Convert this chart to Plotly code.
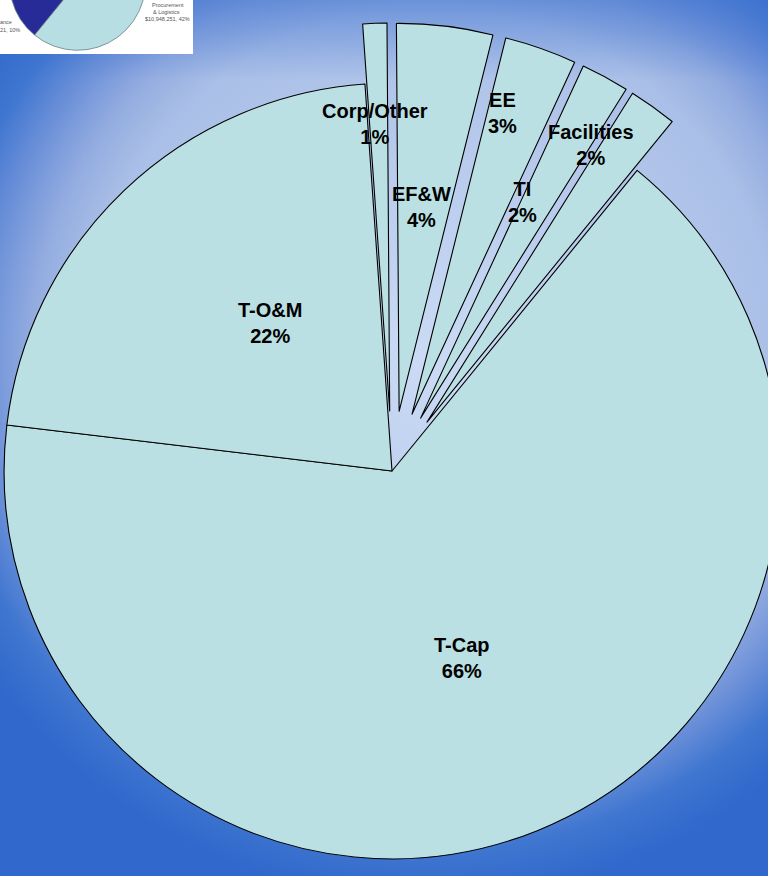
import base64
import math
import plotly.graph_objects as go

# ---- data -------------------------------------------------------------
categories = ["Corp/Other", "EF&W", "EE", "TI", "Facilities", "T-Cap", "T-O&M"]
shares = [1, 4, 3, 2, 2, 66, 22]
pulled = [True, True, True, True, True, False, False]

inset_labels = ["Procurement & Logistics", "Maintenance", "Other"]
inset_shares = [42, 10, 48]

# ---- geometry (pixels) ------------------------------------------------
VW, VH = 768, 876            # visible page
PULL = 0.155
ROTATION = -4
BOX = 448                    # half size of the main pie box, incl. pull
R = BOX / (1 + PULL)         # radius plotly gives the pie
CX, CY = 392, 471            # main pie centre on the page
OFF_L = BOX - CX             # figure is shifted left / up on the page
OFF_T = 100
W = 2 * BOX
H = 2 * (CY + OFF_T)

# label placement: fraction of radius along the slice middle, angle nudge
LABEL_RF = [0.74, 0.53, 0.81, 0.615, 0.83, 0.515, 0.495]
LABEL_DA = [-0.7, -0.6, -2.7, -3.2, -5.0, 1.4, 4.0]

# small pie of the pasted slide picture (top-left)
ICX, ICY, IR = 77.5, -17.7, 68


def px_to_paper(x, y):
    return (x + OFF_L) / W, 1 - (y + OFF_T) / H


# radial background (plus a slight darkening along the top) as inline svg
svg = f"""<svg xmlns='http://www.w3.org/2000/svg' width='{VW}' height='{VH}'>
<defs>
<radialGradient id='g' gradientUnits='userSpaceOnUse' cx='430' cy='360' r='540'>
<stop offset='0' stop-color='#cbdbf5'/>
<stop offset='0.65' stop-color='#aabfe7'/>
<stop offset='0.74' stop-color='#93ace0'/>
<stop offset='0.83' stop-color='#6a8fd8'/>
<stop offset='0.91' stop-color='#3f76d0'/>
<stop offset='1' stop-color='#3068cc'/>
</radialGradient>
<linearGradient id='t' x1='0' y1='0' x2='0' y2='1'>
<stop offset='0' stop-color='#3a70cf' stop-opacity='0.55'/>
<stop offset='1' stop-color='#3a70cf' stop-opacity='0'/>
</linearGradient>
</defs>
<rect width='{VW}' height='{VH}' fill='url(#g)'/>
<rect width='{VW}' height='80' fill='url(#t)'/></svg>"""
bg_src = "data:image/svg+xml;base64," + base64.b64encode(svg.encode()).decode()

fig = go.Figure()

fig.add_trace(go.Pie(
    labels=categories,
    values=shares,
    pull=[PULL if p else 0 for p in pulled],
    sort=False,
    direction="clockwise",
    rotation=ROTATION,
    domain=dict(x=[0, 1], y=[0, 1]),
    marker=dict(colors=["#bae0e3"] * len(categories),
                line=dict(color="#000000", width=1.1)),
    textinfo="none",
    hoverinfo="label+percent",
    showlegend=False,
))

ix0, iy0 = px_to_paper(ICX - IR, ICY + IR)
ix1, iy1 = px_to_paper(ICX + IR, ICY - IR)
fig.add_trace(go.Pie(
    labels=inset_labels,
    values=inset_shares,
    sort=False,
    direction="clockwise",
    rotation=68,
    domain=dict(x=[ix0, ix1], y=[iy0, iy1]),
    marker=dict(colors=["#b6dee3", "#272b97", "#2a8ba0"],
                line=dict(color="#6a8189", width=0.8)),
    textinfo="none",
    hoverinfo="label+percent",
    showlegend=False,
))

# slice labels, placed from each slice's own angle
total = sum(shares)
label_font = dict(family="Liberation Sans, Arial, sans-serif", size=20,
                  color="#000000", weight="bold")
acc = 0.0
for name, v, p, rf, da in zip(categories, shares, pulled, LABEL_RF, LABEL_DA):
    mid = math.radians(ROTATION + 360 * (acc + v / 2) / total)
    acc += v
    px, py = CX, CY
    if p:
        px += PULL * R * math.sin(mid)
        py -= PULL * R * math.cos(mid)
    a = mid + math.radians(da)
    lx = px + rf * R * math.sin(a)
    ly = py - rf * R * math.cos(a)
    ax, ay = px_to_paper(lx, ly)
    fig.add_annotation(x=ax, y=ay, xref="paper", yref="paper",
                       text=f"{name.replace('&', '&amp;')}<br>{v / total:.0%}",
                       showarrow=False, xanchor="center", yanchor="middle",
                       font=label_font)

bx0, by0 = px_to_paper(0, 0)
fig.add_layout_image(dict(source=bg_src, xref="paper", yref="paper",
                          x=bx0, y=by0, sizex=VW / W, sizey=VH / H,
                          xanchor="left", yanchor="top", sizing="stretch",
                          layer="below"))

# white card behind the small pie
rx0, ry0 = px_to_paper(-OFF_L, -OFF_T)
rx1, ry1 = px_to_paper(193, 54)
fig.add_shape(type="rect", xref="paper", yref="paper",
              x0=rx0, y0=ry1, x1=rx1, y1=ry0,
              fillcolor="#ffffff", line=dict(width=0), layer="below")

small = dict(family="Liberation Sans, Arial, sans-serif", size=5.5, color="#555555")
for txt, x, y, anchor in [
    ("Procurement", 168, 5, "center"),
    ("&amp; Logistics", 166, 12, "center"),
    ("$10,948,251, 42%", 167, 19, "center"),
    ("ance", 0, 22, "left"),
    ("21, 10%", 0, 30, "left"),
]:
    ax, ay = px_to_paper(x, y)
    fig.add_annotation(x=ax, y=ay, xref="paper", yref="paper", text=txt,
                       showarrow=False, xanchor=anchor, yanchor="middle",
                       font=small, xshift=-2 if anchor == "left" else 0)

fig.update_layout(
    width=W, height=H,
    margin=dict(l=0, r=0, t=0, b=0),
    paper_bgcolor="#3a70cf",
    plot_bgcolor="rgba(0,0,0,0)",
)

post = f"""
var gd = document.getElementById('{{plot_id}}');
document.documentElement.style.margin = '0';
document.body.style.margin = '0';
document.body.style.overflow = 'hidden';
var box = gd.parentElement;
box.style.position = 'relative';
box.style.width = '{VW}px';
box.style.height = '{VH}px';
box.style.overflow = 'hidden';
gd.style.position = 'absolute';
gd.style.left = '-{OFF_L}px';
gd.style.top = '-{OFF_T}px';
"""

fig.write_html("out.html", post_script=post)
